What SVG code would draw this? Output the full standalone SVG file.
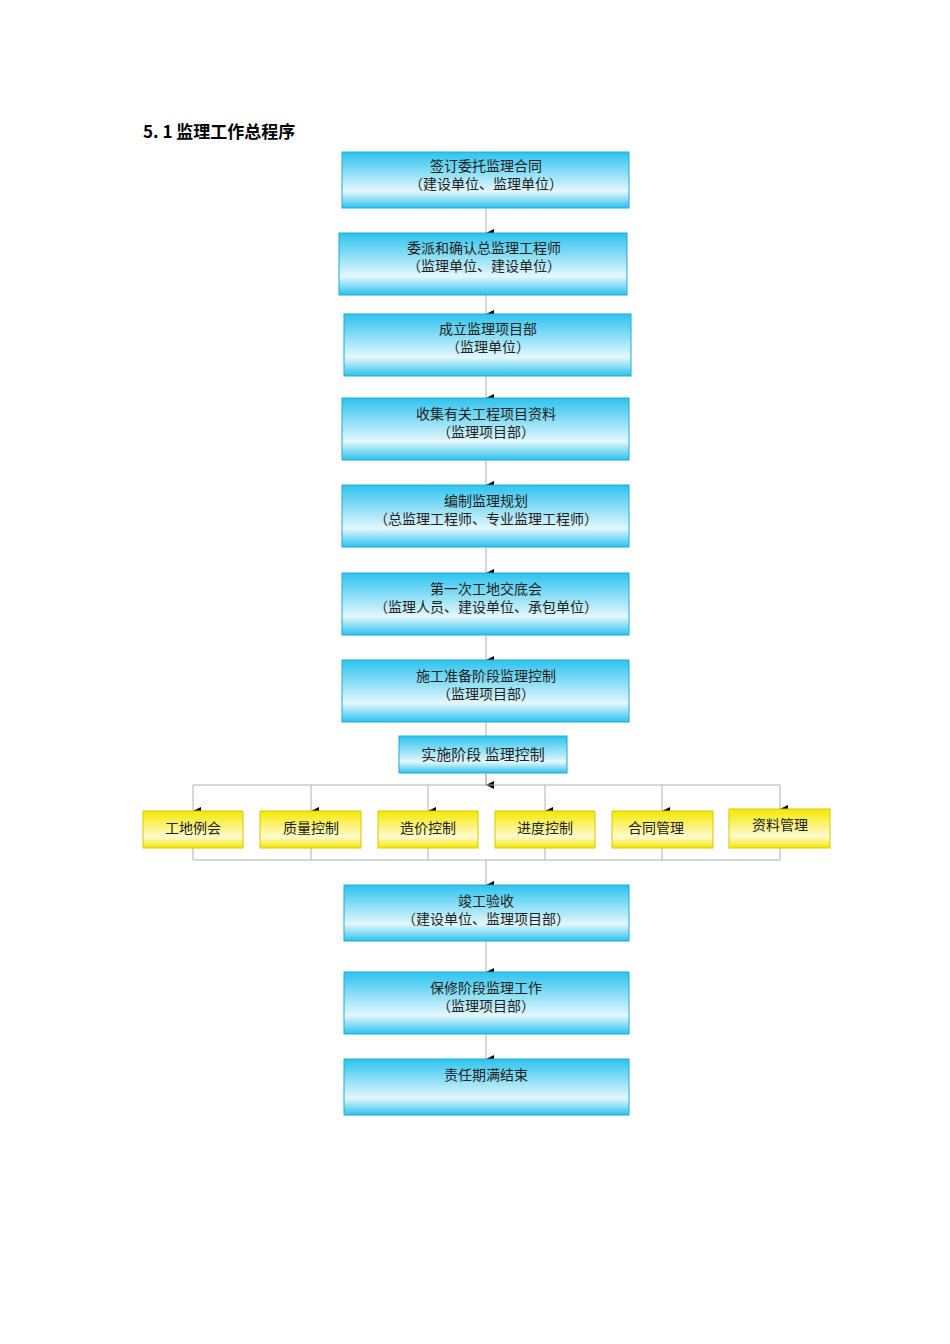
<svg xmlns="http://www.w3.org/2000/svg" width="950" height="1344" viewBox="0 0 950 1344">
<style>
.b{stroke:#1fa9d6;stroke-width:1;fill:url(#gb)}
.y{stroke:#d8c800;stroke-width:1;fill:url(#gy)}
.t{font-family:"Noto Sans CJK SC",sans-serif;font-size:14px;fill:#222;text-anchor:middle}
.c{stroke:#b0b0b0;stroke-width:1;fill:none}
</style>
<defs>
<linearGradient id="gb" x1="0" y1="0" x2="0" y2="1"><stop offset="0" stop-color="#2cc3ee"/><stop offset="0.7" stop-color="#e4f7fd"/><stop offset="1" stop-color="#2cc3ee"/></linearGradient>
<linearGradient id="gy" x1="0" y1="0" x2="0" y2="1"><stop offset="0" stop-color="#f5e800"/><stop offset="0.7" stop-color="#fffbd0"/><stop offset="1" stop-color="#f5e800"/></linearGradient>
<marker id="a" markerWidth="8" markerHeight="8" refX="4" refY="8" orient="auto" markerUnits="userSpaceOnUse" viewBox="0 0 8 8"><path d="M0,0 L8,0 L4,8 Z" fill="#000"/></marker>
</defs>
<rect width="950" height="1344" fill="#fff"/>
<text x="143" y="138" font-family="Noto Sans CJK SC,sans-serif" font-size="17" font-weight="bold" fill="#000">5. 1 监理工作总程序</text>
<g id="connectors">
<path class="c" d="M486,208 V233" marker-end="url(#a)"/>
<path class="c" d="M486,295 V314" marker-end="url(#a)"/>
<path class="c" d="M486,376 V398" marker-end="url(#a)"/>
<path class="c" d="M486,460 V485" marker-end="url(#a)"/>
<path class="c" d="M486,547 V573" marker-end="url(#a)"/>
<path class="c" d="M486,635 V660" marker-end="url(#a)"/>
<path class="c" d="M486,722 V785"/>
<path class="c" d="M486,773 V785" marker-end="url(#a)"/>
<path class="c" d="M193,785 H780"/>
<path class="c" d="M193,785 V811" marker-end="url(#a)"/>
<path class="c" d="M311,785 V811" marker-end="url(#a)"/>
<path class="c" d="M428,785 V811" marker-end="url(#a)"/>
<path class="c" d="M545,785 V811" marker-end="url(#a)"/>
<path class="c" d="M662,785 V811" marker-end="url(#a)"/>
<path class="c" d="M780,785 V809" marker-end="url(#a)"/>
<path class="c" d="M193,848 V860 H780 V848 M311,848 V860 M428,848 V860 M545,848 V860 M662,848 V860"/>
<path class="c" d="M486,860 V885" marker-end="url(#a)"/>
<path class="c" d="M486,941 V972" marker-end="url(#a)"/>
<path class="c" d="M486,1034 V1059" marker-end="url(#a)"/>
</g>
<g id="n1"><rect class="b" x="342" y="152" width="287" height="56"/><text class="t" x="486" y="171">签订委托监理合同</text><text class="t" x="486" y="189">（建设单位、监理单位）</text></g>
<g id="n2"><rect class="b" x="339" y="233" width="288" height="62"/><text class="t" x="484" y="253">委派和确认总监理工程师</text><text class="t" x="484" y="271">（监理单位、建设单位）</text></g>
<g id="n3"><rect class="b" x="344" y="314" width="287" height="62"/><text class="t" x="488" y="334">成立监理项目部</text><text class="t" x="488" y="352">（监理单位）</text></g>
<g id="n4"><rect class="b" x="342" y="398" width="287" height="62"/><text class="t" x="486" y="419">收集有关工程项目资料</text><text class="t" x="486" y="437">（监理项目部）</text></g>
<g id="n5"><rect class="b" x="342" y="485" width="287" height="62"/><text class="t" x="486" y="506">编制监理规划</text><text class="t" x="486" y="524">（总监理工程师、专业监理工程师）</text></g>
<g id="n6"><rect class="b" x="342" y="573" width="287" height="62"/><text class="t" x="486" y="594">第一次工地交底会</text><text class="t" x="486" y="612">（监理人员、建设单位、承包单位）</text></g>
<g id="n7"><rect class="b" x="342" y="660" width="287" height="62"/><text class="t" x="486" y="681">施工准备阶段监理控制</text><text class="t" x="486" y="699">（监理项目部）</text></g>
<g id="n8"><rect class="b" x="399" y="736" width="168" height="37"/><text class="t" x="483" y="760" style="font-size:15px">实施阶段 监理控制</text></g>
<g id="y1"><rect class="y" x="143" y="811" width="100" height="37"/><text class="t" x="193" y="833">工地例会</text></g>
<g id="y2"><rect class="y" x="260" y="811" width="101" height="37"/><text class="t" x="311" y="833">质量控制</text></g>
<g id="y3"><rect class="y" x="378" y="811" width="100" height="37"/><text class="t" x="428" y="833">造价控制</text></g>
<g id="y4"><rect class="y" x="495" y="811" width="100" height="37"/><text class="t" x="545" y="833">进度控制</text></g>
<g id="y5"><rect class="y" x="612" y="811" width="101" height="37"/><text class="t" x="656" y="833">合同管理</text></g>
<g id="y6"><rect class="y" x="729" y="809" width="101" height="39"/><text class="t" x="780" y="830">资料管理</text></g>
<g id="n9"><rect class="b" x="344" y="885" width="285" height="56"/><text class="t" x="486" y="906">竣工验收</text><text class="t" x="486" y="924">（建设单位、监理项目部）</text></g>
<g id="n10"><rect class="b" x="344" y="972" width="285" height="62"/><text class="t" x="486" y="993">保修阶段监理工作</text><text class="t" x="486" y="1011">（监理项目部）</text></g>
<g id="n11"><rect class="b" x="344" y="1059" width="285" height="56"/><text class="t" x="486" y="1080">责任期满结束</text></g>
</svg>
